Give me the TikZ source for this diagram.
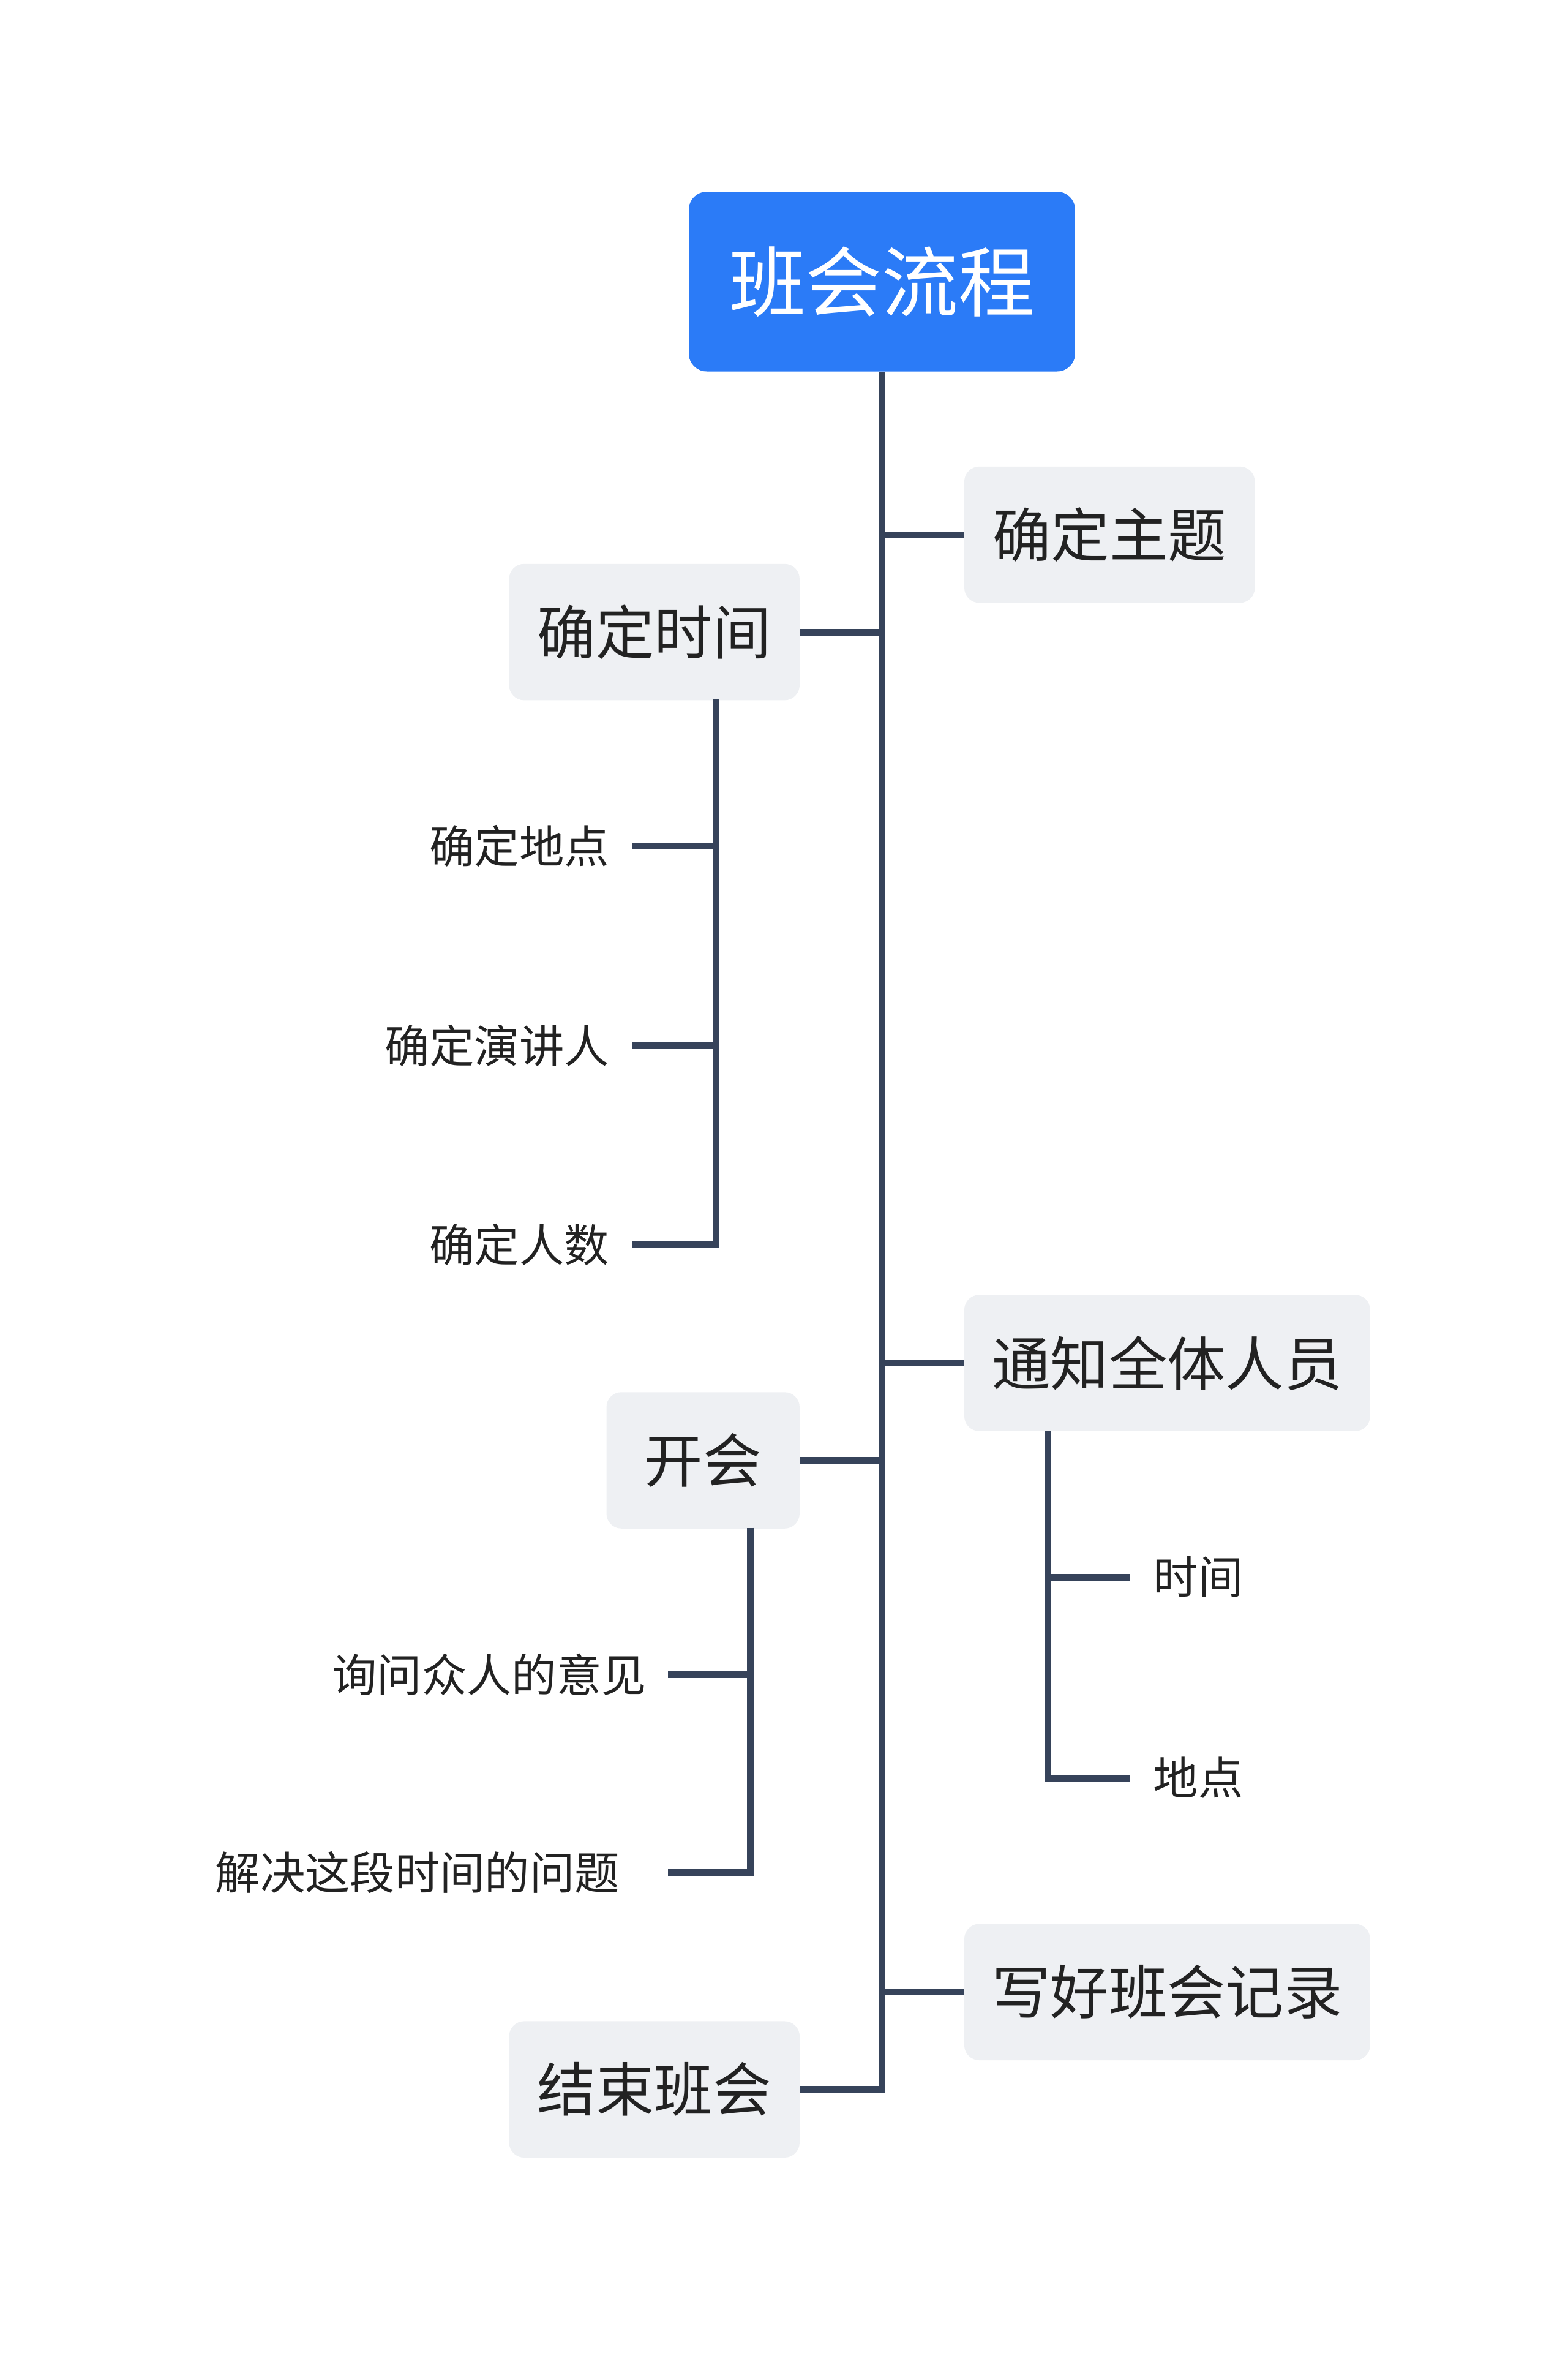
\documentclass[tikz,border=0pt]{standalone}
\usepackage{fontspec}
\setmainfont{Noto Sans CJK SC}
\begin{document}
\begin{tikzpicture}[x=1pt,y=-1pt,
  ln/.style={draw=lc,line width=4.5pt,line join=miter},
  mbox/.style={fill=bx,rounded corners=10pt,minimum height=91pt,inner sep=0pt,font=\fontsize{39}{41}\selectfont,text=tx},
  leaf/.style={inner sep=0pt,font=\fontsize{30}{32}\selectfont,text=tx}]
\definecolor{lc}{HTML}{36435A}
\definecolor{bx}{HTML}{EEF0F3}
\definecolor{tx}{HTML}{222222}
\definecolor{rt}{HTML}{2B7BF7}
\useasboundingbox (0,0) rectangle (1047,1573);
\node[fill=rt,rounded corners=12pt,minimum width=258pt,minimum height=120pt,text=white,font=\fontsize{51}{53}\selectfont] (root) at (589,188) {班会流程};
\node[mbox,minimum width=194pt] (a) at (741,357) {确定主题};
\node[mbox,minimum width=194pt] (b) at (437,422) {确定时间};
\node[mbox,minimum width=271pt] (c) at (779.5,910) {通知全体人员};
\node[mbox,minimum width=129pt] (d) at (469.5,975) {开会};
\node[mbox,minimum width=271pt] (e) at (779.5,1330) {写好班会记录};
\node[mbox,minimum width=194pt] (f) at (437,1395) {结束班会};
\node[leaf,anchor=east] (b1) at (407,565) {确定地点};
\node[leaf,anchor=east] (b2) at (407,698) {确定演讲人};
\node[leaf,anchor=east] (b3) at (407,831) {确定人数};
\node[leaf,anchor=west] (c1) at (770,1053) {时间};
\node[leaf,anchor=west] (c2) at (770,1187) {地点};
\node[leaf,anchor=east] (d1) at (432,1118) {询问众人的意见};
\node[leaf,anchor=east] (d2) at (414,1250) {解决这段时间的问题};
\coordinate (tb) at (589,1395);
\draw[ln] (root.south) -- (tb) -- (f.east);
\draw[ln] (589,357) -- (a.west);
\draw[ln] (589,422) -- (b.east);
\draw[ln] (589,910) -- (c.west);
\draw[ln] (589,975) -- (d.east);
\draw[ln] (589,1330) -- (e.west);
\draw[ln] (478,467) -- (478,831) -- (422,831);
\draw[ln] (478,565) -- (422,565);
\draw[ln] (478,698) -- (422,698);
\draw[ln] (700,955) -- (700,1187) -- (755,1187);
\draw[ln] (700,1053) -- (755,1053);
\draw[ln] (501,1020) -- (501,1250) -- (446,1250);
\draw[ln] (501,1118) -- (446,1118);
\end{tikzpicture}
\end{document}
